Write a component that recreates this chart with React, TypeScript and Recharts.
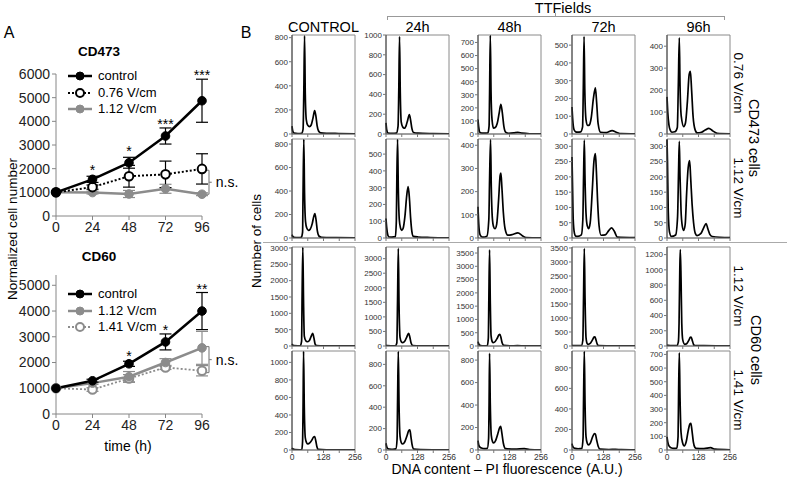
import React from "react";
import {
  LineChart,
  Line,
  XAxis,
  YAxis,
  ErrorBar,
  LabelList,
  ReferenceLine,
  ReferenceDot,
  ReferenceArea,
  Label,
} from "recharts";

const FONT = '"Liberation Sans", Arial, sans-serif';

// ---------- Panel A: growth curves ----------
const HOURS = [0, 24, 48, 72, 96];

const CD473_CONTROL = [1000, 1550, 2250, 3380, 4870];
const CD473_CONTROL_ERR = [0, 130, 230, 340, 910];
const CD473_076 = [1000, 1220, 1680, 1760, 1990];
const CD473_076_ERR = [0, 90, 460, 560, 640];
const CD473_112 = [1000, 990, 930, 1150, 920];
const CD473_112_ERR = [0, 60, 150, 190, 60];
const CD473_STARS = ["", "*", "*", "***", "***"];
const CD473_STAR_Y = [null, 1960, 2760, 3900, 5940];

const CD60_CONTROL = [1000, 1290, 1950, 2800, 4000];
const CD60_CONTROL_ERR = [0, 60, 100, 310, 720];
const CD60_112 = [1000, 1200, 1450, 2000, 2570];
const CD60_112_ERR = [0, 50, 200, 150, 640];
const CD60_141 = [1000, 950, 1380, 1810, 1680];
const CD60_141_ERR = [0, 70, 150, 80, 200];
const CD60_STARS = ["", "", "*", "*", "**"];
const CD60_STAR_Y = [null, null, 2250, 3260, 4860];

// ---------- Panel B: DNA content histograms [PI fluorescence, cells] ----------
type Pt = [number, number];

const CD473_076_CTRL: Pt[] = [[0,66],[3,25],[8,8],[24,4],[40,6],[45,40],[48,350],[51,815],[54,330],[58,120],[64,72],[71,62],[78,75],[85,130],[92,194],[97,150],[102,70],[108,25],[116,10],[140,6],[190,4],[256,2]];
const CD473_076_24H: Pt[] = [[0,112],[3,40],[8,10],[24,6],[42,8],[49,80],[52,450],[55,985],[58,420],[62,120],[68,70],[74,58],[81,80],[88,140],[95,197],[100,140],[105,60],[112,15],[130,8],[190,4],[256,2]];
const CD473_076_48H: Pt[] = [[0,111],[3,50],[8,12],[20,6],[40,8],[45,60],[47,300],[50,755],[53,320],[57,110],[63,45],[70,50],[78,80],[86,160],[93,227],[99,160],[105,60],[112,15],[125,5],[145,8],[162,13],[180,6],[210,2],[256,1]];
const CD473_076_72H: Pt[] = [[0,152],[3,80],[8,25],[15,12],[23,10],[35,12],[43,40],[46,260],[49,548],[52,250],[57,80],[64,48],[70,50],[78,90],[87,200],[95,260],[100,180],[106,60],[116,10],[140,8],[163,19],[180,10],[200,2],[256,1]];
const CD473_076_96H: Pt[] = [[0,169],[3,100],[8,40],[14,15],[20,8],[32,10],[42,30],[46,220],[50,438],[53,220],[58,80],[68,34],[75,50],[83,150],[90,270],[95,285],[100,200],[106,80],[114,20],[123,5],[140,8],[155,18],[170,26],[185,15],[204,3],[256,1]];

const CD473_112_CTRL: Pt[] = [[0,28],[3,15],[8,6],[24,4],[38,6],[43,50],[45,400],[48,840],[51,380],[55,140],[60,85],[67,65],[74,75],[82,120],[88,180],[93,208],[98,150],[103,60],[110,15],[120,6],[180,3],[256,1]];
const CD473_112_24H: Pt[] = [[0,116],[3,60],[8,15],[13,6],[24,5],[38,8],[42,100],[44,350],[47,588],[50,300],[54,110],[59,60],[64,46],[70,60],[77,130],[84,250],[90,306],[95,240],[100,120],[105,40],[111,10],[130,6],[180,3],[256,1]];
const CD473_112_48H: Pt[] = [[0,135],[3,60],[8,15],[14,6],[20,4],[36,8],[44,80],[47,250],[51,424],[54,220],[58,90],[63,50],[69,40],[76,60],[84,170],[90,270],[93,280],[97,220],[103,110],[110,40],[121,12],[140,15],[162,22],[180,10],[195,2],[256,1]];
const CD473_112_72H: Pt[] = [[0,265],[2,180],[5,60],[10,15],[15,6],[23,5],[38,10],[44,60],[47,200],[50,320],[53,190],[57,80],[62,40],[68,31],[74,50],[82,150],[89,250],[95,276],[99,220],[104,120],[110,40],[118,9],[135,10],[150,25],[161,33],[172,22],[184,3],[256,1]];
const CD473_112_96H: Pt[] = [[0,322],[2,250],[5,90],[10,20],[18,5],[35,10],[43,70],[47,220],[50,316],[53,200],[57,90],[62,40],[68,25],[74,45],[80,150],[86,230],[92,253],[96,200],[102,110],[108,50],[115,15],[122,8],[138,15],[150,35],[159,47],[166,30],[174,12],[184,5],[256,1]];

const CD60_112_CTRL: Pt[] = [[0,60],[3,30],[8,10],[24,5],[34,8],[39,150],[41,1500],[44,3020],[47,1300],[50,300],[56,160],[62,130],[70,160],[77,280],[84,390],[89,250],[94,60],[100,15],[130,5],[256,2]];
const CD60_112_24H: Pt[] = [[0,20],[5,10],[20,5],[38,8],[44,100],[47,1600],[50,3350],[53,1400],[57,300],[62,150],[68,115],[76,160],[84,300],[92,437],[97,300],[102,100],[109,15],[140,6],[256,2]];
const CD60_112_48H: Pt[] = [[0,165],[3,80],[8,25],[16,10],[30,8],[38,20],[42,300],[44,1700],[47,3620],[50,1600],[53,400],[58,160],[62,126],[70,170],[78,290],[85,420],[89,440],[93,330],[98,120],[105,20],[130,8],[160,12],[190,5],[256,2]];
const CD60_112_72H: Pt[] = [[0,25],[5,15],[20,10],[38,12],[44,200],[47,1800],[50,3480],[53,1700],[57,300],[62,80],[66,60],[74,90],[82,200],[90,320],[93,330],[97,230],[102,80],[108,15],[140,8],[256,3]];
const CD60_112_96H: Pt[] = [[0,12],[5,8],[20,5],[40,6],[46,50],[49,300],[52,1000],[54,1265],[57,900],[60,300],[64,80],[72,22],[80,30],[88,70],[95,115],[98,118],[103,70],[108,20],[113,5],[150,4],[256,2]];

const CD60_141_CTRL: Pt[] = [[0,23],[4,10],[12,4],[30,3],[40,6],[43,100],[45,500],[47,1125],[50,480],[54,140],[59,85],[65,69],[72,80],[80,110],[87,145],[92,153],[97,100],[101,40],[106,8],[140,3],[256,1]];
const CD60_141_24H: Pt[] = [[0,63],[3,30],[8,12],[14,9],[28,6],[40,10],[45,100],[47,450],[50,920],[53,420],[57,130],[62,70],[68,56],[76,75],[85,130],[92,180],[97,188],[101,130],[106,50],[113,8],[140,4],[256,1]];
const CD60_141_48H: Pt[] = [[0,84],[3,45],[8,25],[14,18],[26,12],[38,15],[43,100],[45,400],[47,860],[50,400],[54,130],[59,75],[64,63],[72,85],[80,140],[88,200],[92,210],[97,150],[103,60],[112,12],[150,8],[188,12],[210,4],[256,1]];
const CD60_141_72H: Pt[] = [[0,62],[3,35],[8,20],[13,16],[25,12],[40,15],[45,120],[47,500],[50,960],[53,450],[57,130],[62,65],[67,49],[75,70],[84,130],[91,160],[95,155],[100,100],[106,40],[114,9],[150,5],[177,7],[200,3],[256,1]];
const CD60_141_96H: Pt[] = [[0,96],[3,60],[8,30],[16,17],[28,12],[40,14],[45,100],[47,400],[50,712],[53,380],[57,130],[63,55],[70,30],[78,60],[86,140],[93,190],[97,195],[101,150],[107,60],[113,20],[118,12],[150,10],[177,17],[195,6],[256,2]];

const HIST_ROWS: Pt[][][] = [
  [CD473_076_CTRL, CD473_076_24H, CD473_076_48H, CD473_076_72H, CD473_076_96H],
  [CD473_112_CTRL, CD473_112_24H, CD473_112_48H, CD473_112_72H, CD473_112_96H],
  [CD60_112_CTRL, CD60_112_24H, CD60_112_48H, CD60_112_72H, CD60_112_96H],
  [CD60_141_CTRL, CD60_141_24H, CD60_141_48H, CD60_141_72H, CD60_141_96H],
];
const Y_MAX = [
  [822, 1000, 757, 557, 451],
  [843, 590, 427, 324, 324],
  [3030, 3400, 3727, 3535, 1300],
  [1130, 925, 881, 964, 725],
];
const Y_TICK_TOP = [
  [800, 1000, 700, 500, 400],
  [800, 500, 400, 300, 300],
  [3000, 3000, 3500, 3500, 1200],
  [1000, 800, 800, 800, 700],
];
const Y_TICK_STEP = [
  [200, 200, 100, 100, 100],
  [200, 100, 100, 50, 50],
  [500, 500, 500, 500, 200],
  [200, 200, 200, 200, 100],
];
const X_TICKS = [0, 64, 128, 192, 256];
const COLUMN_TITLES = ["CONTROL", "24h", "48h", "72h", "96h"];
const DOSE_LABELS = ["0.76 V/cm", "1.12 V/cm", "1.12 V/cm", "1.41 V/cm"];

// layout
const COL_X = [292, 386, 478, 572, 667];
const ROW_Y = [35, 139, 247, 351];
const DOSE_Y = [83, 188, 296, 400];
const BOX_W = 63;
const BOX_H = 99;
const PAD_L = 30;
const PAD_T = 6;
const PAD_R = 10;

const GRAY = "#8c8c8c";

type SeriesStyle = {
  key: string;
  errKey: string;
  name: string;
  stroke: string;
  width: number;
  dash?: string;
  dotFill: string;
};

const CD473_SERIES: SeriesStyle[] = [
  { key: "v112", errKey: "e112", name: "1.12 V/cm", stroke: GRAY, width: 2.5, dotFill: GRAY },
  { key: "v076", errKey: "e076", name: "0.76 V/cm", stroke: "#000", width: 2, dash: "2 2", dotFill: "#fff" },
  { key: "ctrl", errKey: "ectrl", name: "control", stroke: "#000", width: 2.5, dotFill: "#000" },
];
const CD60_SERIES: SeriesStyle[] = [
  { key: "v141", errKey: "e141", name: "1.41 V/cm", stroke: GRAY, width: 1.8, dash: "2 2", dotFill: "#fff" },
  { key: "v112", errKey: "e112", name: "1.12 V/cm", stroke: GRAY, width: 2.5, dotFill: GRAY },
  { key: "ctrl", errKey: "ectrl", name: "control", stroke: "#000", width: 2.5, dotFill: "#000" },
];

const cd473Data = HOURS.map((h, i) => ({
  h,
  ctrl: CD473_CONTROL[i],
  ectrl: CD473_CONTROL_ERR[i],
  v076: CD473_076[i],
  e076: CD473_076_ERR[i],
  v112: CD473_112[i],
  e112: CD473_112_ERR[i],
  star: CD473_STARS[i],
  starY: CD473_STAR_Y[i],
}));

const cd60Data = HOURS.map((h, i) => ({
  h,
  ctrl: CD60_CONTROL[i],
  ectrl: CD60_CONTROL_ERR[i],
  v112: CD60_112[i],
  e112: CD60_112_ERR[i],
  v141: CD60_141[i],
  e141: CD60_141_ERR[i],
  star: CD60_STARS[i],
  starY: CD60_STAR_Y[i],
}));

function Legend({ series, left, top }: { series: SeriesStyle[]; left: number; top: number }) {
  const rows = [...series].reverse();
  return (
    <div style={{ position: "absolute", left, top, fontSize: 13, lineHeight: "16.5px" }}>
      {rows.map((s) => (
        <div key={s.key} style={{ display: "flex", alignItems: "center", height: 16.5 }}>
          <svg width={26} height={12} style={{ marginRight: 5 }}>
            <line x1={1} x2={25} y1={6} y2={6} stroke={s.stroke} strokeWidth={s.width} strokeDasharray={s.dash} />
            <circle cx={13} cy={6} r={4} fill={s.dotFill} stroke={s.dotFill === "#fff" ? s.stroke : s.dotFill} strokeWidth={s.dotFill === "#fff" ? 2 : 1} />
          </svg>
          <span>{s.name}</span>
        </div>
      ))}
    </div>
  );
}

function GrowthChart({
  data,
  series,
  yMax,
  yTicks,
  top,
  marginTop,
  axisH,
  bracket,
}: {
  data: Record<string, unknown>[];
  series: SeriesStyle[];
  yMax: number;
  yTicks: number[];
  top: number;
  marginTop: number;
  axisH: number;
  bracket: [number, number];
}) {
  const [lo, hi] = bracket;
  const mid = (lo + hi) / 2;
  return (
    <div style={{ position: "absolute", left: 0, top }}>
      <LineChart width={240} height={190} data={data} margin={{ top: marginTop, right: 38, left: 10, bottom: 0 }}>
        <XAxis
          type="number"
          dataKey="h"
          domain={[0, 96]}
          ticks={HOURS}
          interval={0}
          height={axisH}
          tickSize={4}
          tick={{ fontSize: 14, fill: "#222" }}
          axisLine={{ stroke: "#868686" }}
          tickLine={{ stroke: "#868686" }}
        />
        <YAxis
          type="number"
          domain={[0, yMax]}
          ticks={yTicks}
          interval={0}
          width={46}
          tickSize={4}
          tick={{ fontSize: 14, fill: "#222" }}
          axisLine={{ stroke: "#868686" }}
          tickLine={{ stroke: "#868686" }}
        />
        {series.map((s) => (
          <Line
            key={s.key}
            dataKey={s.key}
            type="linear"
            stroke={s.stroke}
            strokeWidth={s.width}
            strokeDasharray={s.dash}
            dot={{ r: 4.3, fill: s.dotFill, stroke: s.dotFill === "#fff" ? s.stroke : s.dotFill, strokeWidth: s.dotFill === "#fff" ? 2 : 1, strokeDasharray: "0" }}
            activeDot={false}
            isAnimationActive={false}
          >
            <ErrorBar dataKey={s.errKey} width={6} strokeWidth={1.2} stroke={s.stroke} direction="y" />
          </Line>
        ))}
        <Line dataKey="starY" stroke="none" dot={false} activeDot={false} isAnimationActive={false}>
          <LabelList dataKey="star" position="center" fontSize={14} fill="#000" />
        </Line>
        <ReferenceLine segment={[{ x: 100.6, y: lo }, { x: 100.6, y: hi }]} stroke="#868686" strokeWidth={1.2} ifOverflow="visible" />
        <ReferenceLine segment={[{ x: 98.6, y: lo }, { x: 100.6, y: lo }]} stroke="#868686" strokeWidth={1.2} ifOverflow="visible" />
        <ReferenceLine segment={[{ x: 98.6, y: hi }, { x: 100.6, y: hi }]} stroke="#868686" strokeWidth={1.2} ifOverflow="visible" />
        <ReferenceLine segment={[{ x: 100.6, y: mid }, { x: 102.4, y: mid }]} stroke="#868686" strokeWidth={1.2} ifOverflow="visible" />
        <ReferenceDot x={102.4} y={mid} r={0} fill="none" stroke="none" ifOverflow="visible">
          <Label value="n.s." position="right" offset={4} fontSize={14} fill="#000" />
        </ReferenceDot>
      </LineChart>
    </div>
  );
}

function Histogram({
  points,
  yMax,
  yTicks,
  left,
  top,
  bottomRow,
}: {
  points: Pt[];
  yMax: number;
  yTicks: number[];
  left: number;
  top: number;
  bottomRow: boolean;
}) {
  const data = points.map(([x, y]) => ({ x, y }));
  const axisH = bottomRow ? 18 : 4;
  return (
    <div style={{ position: "absolute", left: left - PAD_L, top: top - PAD_T }}>
      <LineChart
        width={PAD_L + BOX_W + PAD_R}
        height={PAD_T + BOX_H + axisH}
        data={data}
        margin={{ top: PAD_T, right: PAD_R, left: 0, bottom: 0 }}
      >
        <XAxis
          type="number"
          dataKey="x"
          domain={[0, 256]}
          ticks={X_TICKS}
          interval={0}
          height={axisH}
          tickSize={3}
          tickMargin={1}
          tick={{ fontSize: 8.5, fill: "#333" }}
          tickFormatter={(v: number) => (bottomRow && v % 128 === 0 ? String(v) : "")}
          axisLine={{ stroke: "#777" }}
          tickLine={{ stroke: "#777" }}
        />
        <YAxis
          type="number"
          domain={[0, yMax]}
          ticks={yTicks}
          interval={0}
          width={PAD_L}
          tickSize={3}
          tickMargin={1}
          tick={{ fontSize: 8, fill: "#333" }}
          axisLine={{ stroke: "#444" }}
          tickLine={{ stroke: "#777" }}
          allowDataOverflow
        />
        <ReferenceArea x1={0} x2={256} y1={0} y2={yMax} fill="none" fillOpacity={0} stroke="#8a8a8a" ifOverflow="visible" />
        <Line type="monotone" dataKey="y" stroke="#000" strokeWidth={1.7} dot={false} activeDot={false} isAnimationActive={false} />
      </LineChart>
    </div>
  );
}

function Rot({ x, y, text, size, deg }: { x: number; y: number; text: string; size: number; deg: number }) {
  return (
    <div
      style={{
        position: "absolute",
        left: x,
        top: y,
        transform: `translate(-50%, -50%) rotate(${deg}deg)`,
        fontSize: size,
        whiteSpace: "nowrap",
      }}
    >
      {text}
    </div>
  );
}

function Centered({ x, y, text, size, bold }: { x: number; y: number; text: string; size: number; bold?: boolean }) {
  return (
    <div
      style={{
        position: "absolute",
        left: x,
        top: y,
        transform: "translate(-50%, -50%)",
        fontSize: size,
        fontWeight: bold ? 700 : 400,
        whiteSpace: "nowrap",
      }}
    >
      {text}
    </div>
  );
}

function makeTicks(top: number, step: number) {
  const out: number[] = [];
  for (let v = 0; v <= top; v += step) out.push(v);
  return out;
}

export default function App() {
  return (
    <div
      style={{
        position: "absolute",
        left: 0,
        top: 0,
        width: 788,
        height: 478,
        background: "#fff",
        fontFamily: FONT,
        color: "#000",
        overflow: "hidden",
      }}
    >
      {/* Panel A */}
      <Centered x={9} y={33} text="A" size={16} />
      <Centered x={99} y={51} text="CD473" size={13.5} bold />
      <GrowthChart
        data={cd473Data}
        series={CD473_SERIES}
        yMax={6000}
        yTicks={[0, 1000, 2000, 3000, 4000, 5000, 6000]}
        top={60}
        marginTop={14}
        axisH={34}
        bracket={[920, 1930]}
      />
      <Legend series={CD473_SERIES} left={67} top={68} />

      <Centered x={99} y={256} text="CD60" size={13.5} bold />
      <GrowthChart
        data={cd60Data}
        series={CD60_SERIES}
        yMax={5400}
        yTicks={[0, 1000, 2000, 3000, 4000, 5000]}
        top={260}
        marginTop={15}
        axisH={36}
        bracket={[1610, 2620]}
      />
      <Legend series={CD60_SERIES} left={67} top={286} />
      <Centered x={128} y={446} text="time (h)" size={14} />
      <Rot x={12} y={229} text="Normalized cell number" size={13.5} deg={-90} />

      {/* Panel B */}
      <Centered x={246} y={33} text="B" size={16} />
      <Centered x={563} y={8} text="TTFields" size={14.5} />
      <div style={{ position: "absolute", left: 387, top: 16, width: 336, height: 3, borderTop: "1px solid #999", borderLeft: "1px solid #999", borderRight: "1px solid #999" }} />
      <div style={{ position: "absolute", left: 555, top: 13, width: 1, height: 3, background: "#999" }} />
      {COLUMN_TITLES.map((t, c) => (
        <Centered key={t} x={COL_X[c] + BOX_W / 2} y={27} text={t} size={14.5} />
      ))}
      {HIST_ROWS.map((row, r) =>
        row.map((pts, c) => (
          <Histogram
            key={`${r}-${c}`}
            points={pts}
            yMax={Y_MAX[r][c]}
            yTicks={makeTicks(Y_TICK_TOP[r][c], Y_TICK_STEP[r][c])}
            left={COL_X[c]}
            top={ROW_Y[r]}
            bottomRow={r === 3}
          />
        ))
      )}
      <div style={{ position: "absolute", left: 263, top: 242, width: 524, height: 1, background: "#aaa" }} />
      <Rot x={256} y={241} text="Number of cells" size={13.5} deg={-90} />
      <Centered x={507} y={469} text="DNA content – PI fluorescence (A.U.)" size={14} />
      {DOSE_LABELS.map((t, r) => (
        <Rot key={r} x={738} y={DOSE_Y[r]} text={t} size={13.5} deg={90} />
      ))}
      <Rot x={754} y={138} text="CD473 cells" size={14.5} deg={90} />
      <Rot x={756} y={350} text="CD60 cells" size={14.5} deg={90} />
    </div>
  );
}
